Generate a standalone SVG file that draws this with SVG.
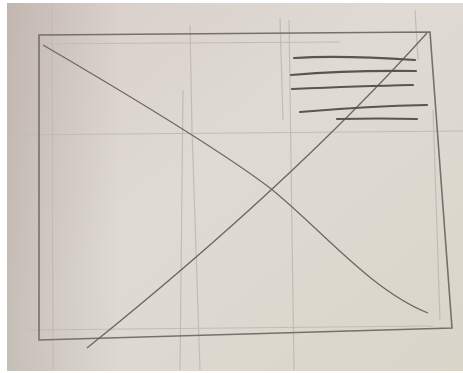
<svg xmlns="http://www.w3.org/2000/svg" width="463" height="373" viewBox="0 0 463 373">
<defs>
<linearGradient id="bg" x1="0" y1="0" x2="1" y2="1">
<stop offset="0" stop-color="#d8cdc8"/>
<stop offset="0.45" stop-color="#dfdbd4"/>
<stop offset="1" stop-color="#d9d5c9"/>
</linearGradient>
<linearGradient id="shade" x1="0" y1="0" x2="1" y2="0">
<stop offset="0" stop-color="#a89c94" stop-opacity="0.45"/>
<stop offset="0.25" stop-color="#a89c94" stop-opacity="0"/>
</linearGradient>
<filter id="soft" x="-5%" y="-5%" width="110%" height="110%"><feGaussianBlur stdDeviation="0.5"/></filter>
<style>
.grid{fill:none;stroke:#c2bcb5;stroke-width:1.2}
.box{fill:none;stroke:#77706b;stroke-width:1.6}
.diag{fill:none;stroke:#6e6863;stroke-width:1.3}
.txt{fill:none;stroke:#5a5450;stroke-width:2.1;stroke-linecap:round}
</style>
</defs>
<rect width="463" height="373" fill="#ffffff"/>
<rect x="7" y="3" width="456" height="368" fill="url(#bg)"/>
<rect x="7" y="3" width="456" height="368" fill="url(#shade)"/>
<g filter="url(#soft)">
<g id="grid">
<path class="grid" d="M52 5 L53 370"/>
<path class="grid" d="M190 25 L192 130 Q196 250 200 370 M183 90 L180 370"/>
<path class="grid" d="M280 18 L283 120 M289 20 L294 370"/>
<path class="grid" d="M415 10 L418 60 M433 110 L440 320"/>
<path class="grid" d="M15 44 L340 42"/>
<path class="grid" d="M8 135 L463 131"/>
<path class="grid" d="M28 330 L433 326"/>
<path class="grid" d="M18 42 Q20 46 19 52"/>
</g>
<g id="frame">
<path class="box" d="M39 35 L430 32 L452 328 L39 340 Z"/>
</g>
<g id="cross">
<path class="diag" d="M43 45 C120 90 220 150 270 188 C320 228 370 290 428 313"/>
<path class="diag" d="M427 33 Q290 185 87 348"/>
</g>
<g id="textlines">
<path class="txt" d="M294 58 Q340 55 415 60"/>
<path class="txt" d="M291 75 Q350 70 416 71"/>
<path class="txt" d="M292 89 Q360 86 413 85"/>
<path class="txt" d="M300 112 Q370 106 427 105"/>
<path class="txt" d="M337 119 Q380 118 417 119" stroke-width="1.6"/>
</g>
</g>
</svg>
